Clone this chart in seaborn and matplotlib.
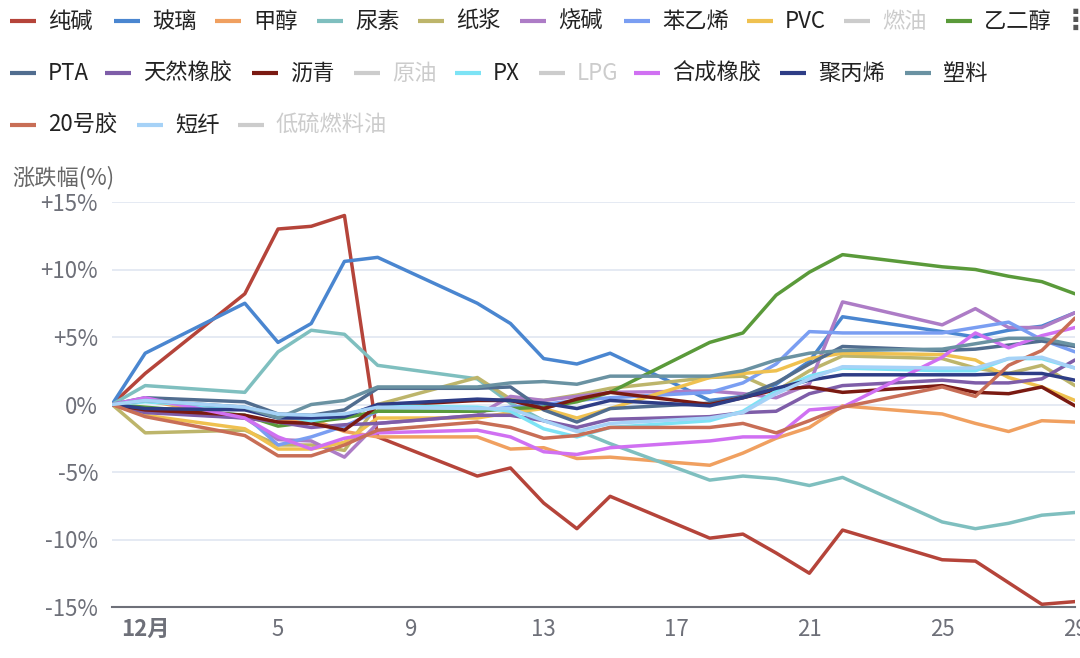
import pandas as pd
import matplotlib.pyplot as plt
import seaborn as sns
from matplotlib.lines import Line2D

sns.set_theme(style="white")
plt.rcParams['font.family'] = ['Noto Sans CJK SC', 'DejaVu Sans']

# 交易日（12月，0 = 11月30日）
days = [0, 1, 4, 5, 6, 7, 8, 11, 12, 13, 14, 15, 18, 19, 20, 21, 22, 25, 26, 27, 28, 29]

soda_ash = [0, 2.3, 8.2, 13.0, 13.2, 14.0, -2.4, -5.3, -4.7, -7.3, -9.2, -6.8, -9.9, -9.6, -11.0, -12.5, -9.3, -11.5, -11.6, -13.2, -14.8, -14.6]
glass = [0, 3.8, 7.5, 4.6, 6.0, 10.6, 10.9, 7.5, 6.0, 3.4, 3.0, 3.8, 0.3, 0.6, 1.5, 3.2, 6.5, 5.4, 5.0, 5.5, 5.8, 6.8]
methanol = [0, 0.3, -1.0, -1.3, -1.1, -2.0, -2.4, -2.4, -3.3, -3.2, -4.0, -3.9, -4.5, -3.6, -2.5, -1.7, -0.1, -0.7, -1.4, -2.0, -1.2, -1.3]
urea = [0, 1.4, 0.9, 3.9, 5.5, 5.2, 2.9, 1.9, 0.1, -1.2, -1.9, -2.9, -5.6, -5.3, -5.5, -6.0, -5.4, -8.7, -9.2, -8.8, -8.2, -8.0]
pulp = [0, -2.1, -1.9, -3.0, -3.0, -3.4, 0.0, 2.0, 0.4, 0.3, 0.7, 1.2, 2.0, 2.1, 1.0, 2.5, 3.6, 3.4, 2.7, 2.3, 2.9, 1.4]
caustic = [0, -0.5, -1.0, -2.6, -2.7, -3.9, -1.4, -0.8, 0.6, 0.3, 0.6, 0.9, 1.0, 0.8, 0.5, 1.5, 7.6, 5.9, 7.1, 5.7, 5.7, 6.8]
styrene = [0, -0.3, -0.8, -3.0, -2.4, -1.6, -0.5, -0.5, -0.2, 0.0, 0.3, 0.5, 0.9, 1.6, 3.0, 5.4, 5.3, 5.3, 5.7, 6.1, 4.8, 3.9]
pvc = [0, -0.8, -1.8, -3.3, -3.3, -2.8, -1.0, -1.0, -0.6, -0.3, -1.0, -0.3, 2.0, 2.3, 2.5, 3.4, 3.8, 3.7, 3.3, 2.0, 1.3, 0.3]
meg = [0, -0.2, -0.8, -1.6, -1.3, -1.0, -0.5, -0.5, -0.3, -0.2, 0.2, 0.9, 4.6, 5.3, 8.1, 9.8, 11.1, 10.2, 10.0, 9.5, 9.1, 8.2]
pta = [0, 0.5, 0.2, -0.7, -0.8, -0.4, 1.2, 1.2, 1.3, -0.4, -1.3, -0.3, 0.1, 0.6, 1.6, 3.0, 4.3, 4.0, 4.1, 4.4, 4.7, 4.3]
rubber = [0, -0.6, -1.0, -1.3, -1.7, -1.5, -1.4, -0.8, -0.8, -1.2, -1.7, -1.1, -0.9, -0.6, -0.5, 0.8, 1.4, 1.8, 1.6, 1.6, 1.9, 3.3]
bitumen = [0, -0.4, -0.8, -1.3, -1.4, -1.9, -0.1, 0.3, 0.3, -0.3, 0.4, 0.9, 0.0, 0.5, 1.1, 1.3, 0.9, 1.4, 0.9, 0.8, 1.3, -0.1]
px = [0, 0.2, -0.3, -0.8, -1.2, -0.8, -0.1, -0.2, -0.5, -1.8, -2.4, -1.7, -1.2, -0.5, 1.0, 2.1, 2.7, 2.5, 2.5, 3.4, 3.4, 2.7]
br = [0, 0.5, -1.0, -2.4, -3.3, -2.5, -2.1, -1.9, -2.4, -3.5, -3.7, -3.2, -2.7, -2.4, -2.4, -0.4, -0.2, 3.5, 5.3, 4.2, 5.1, 5.7]
pp = [0, -0.3, -0.4, -1.0, -1.0, -0.9, 0.0, 0.4, 0.3, 0.1, -0.3, 0.3, -0.1, 0.5, 1.2, 1.8, 2.2, 2.2, 2.2, 2.3, 2.3, 1.8]
plastic = [0, 0.3, -0.2, -1.0, 0.0, 0.3, 1.3, 1.3, 1.6, 1.7, 1.5, 2.1, 2.1, 2.5, 3.3, 3.8, 4.0, 4.1, 4.5, 4.9, 4.9, 4.4]
nr20 = [0, -0.9, -2.3, -3.8, -3.8, -3.0, -1.9, -1.3, -1.7, -2.5, -2.3, -1.7, -1.7, -1.4, -2.1, -1.2, -0.2, 1.3, 0.6, 2.9, 4.0, 6.4]
psf = [0, 0.3, -0.2, -0.7, -0.8, -0.7, -0.2, -0.3, -0.3, -1.2, -2.0, -1.4, -1.0, -0.6, 0.8, 1.9, 2.8, 2.7, 2.7, 3.4, 3.5, 2.7]

series = {
    '纯碱': soda_ash, '玻璃': glass, '甲醇': methanol, '尿素': urea, '纸浆': pulp,
    '烧碱': caustic, '苯乙烯': styrene, 'PVC': pvc, '乙二醇': meg, 'PTA': pta,
    '天然橡胶': rubber, '沥青': bitumen, 'PX': px, '合成橡胶': br, '聚丙烯': pp,
    '塑料': plastic, '20号胶': nr20, '短纤': psf,
}
colors = {
    '纯碱': '#b5443a', '玻璃': '#4a86d0', '甲醇': '#f0a060', '尿素': '#7fbfbf',
    '纸浆': '#bdb56b', '烧碱': '#ad7cc6', '苯乙烯': '#7a9ef2', 'PVC': '#efc150',
    '燃油': '#cccccc', '乙二醇': '#5a9a3a', 'PTA': '#516d8f', '天然橡胶': '#7e5da8',
    '沥青': '#7a1a12', '原油': '#cccccc', 'PX': '#7de3f5', 'LPG': '#cccccc',
    '合成橡胶': '#d070f2', '聚丙烯': '#2e3d86', '塑料': '#6a92a2', '20号胶': '#c86e56',
    '短纤': '#a6d2f7', '低硫燃料油': '#cccccc',
}
hidden = ['燃油', '原油', 'LPG', '低硫燃料油']

df = pd.concat([pd.DataFrame({'day': days, 'pct': v, 'name': k}) for k, v in series.items()])

fig = plt.figure(figsize=(10.8, 6.58), dpi=100)
ax = fig.add_axes([112 / 1080, 1 - 607 / 658, 963 / 1080, 405 / 658])

sns.lineplot(data=df, x='day', y='pct', hue='name', hue_order=list(series.keys()),
             palette={k: colors[k] for k in series}, estimator=None, sort=False,
             linewidth=2.5, legend=False, ax=ax)

ax.set_xlim(0, 29)
ax.set_ylim(-15, 15)
ax.set_yticks([15, 10, 5, 0, -5, -10, -15])
ax.set_yticklabels(['+15%', '+10%', '+5%', '0%', '-5%', '-10%', '-15%'])
ax.set_xticks([1, 5, 9, 13, 17, 21, 25, 29])
ax.set_xticklabels(['12月', '5', '9', '13', '17', '21', '25', '29'])
ax.get_xticklabels()[0].set_fontweight('bold')
ax.get_xticklabels()[0].set_color('#444444')
ax.tick_params(axis='y', length=0, labelsize=16, labelcolor='#6e7079', pad=10)
ax.tick_params(axis='x', length=5, width=1.2, color='#6e7079', labelsize=16,
               labelcolor='#6e7079', pad=3, direction='out')
ax.set_xlabel('')
ax.set_ylabel('')
ax.grid(axis='y', color='#e0e6f1', linewidth=1.2)
ax.grid(axis='x', visible=False)
for side in ['top', 'right', 'left']:
    ax.spines[side].set_visible(False)
ax.spines['bottom'].set_color('#6e7079')
ax.spines['bottom'].set_linewidth(1.5)
ax.spines['bottom'].set_zorder(5)

fig.text(12 / 1080, 1 - 178 / 658, '涨跌幅(%)', fontsize=16, color='#666666', va='center', ha='left')

# 图例（手工排布，模拟 echarts 的横向滚动图例）
legend_rows = [
    ['纯碱', '玻璃', '甲醇', '尿素', '纸浆', '烧碱', '苯乙烯', 'PVC', '燃油', '乙二醇'],
    ['PTA', '天然橡胶', '沥青', '原油', 'PX', 'LPG', '合成橡胶', '聚丙烯', '塑料'],
    ['20号胶', '短纤', '低硫燃料油'],
]
legend_x = [
    [10, 114, 215, 317, 418, 520, 624, 747, 844, 946],
    [10, 105, 252, 354, 455, 539, 634, 780, 905],
    [10, 137, 238],
]
row_y = [21, 73, 125]
for names, xs, y in zip(legend_rows, legend_x, row_y):
    yf = 1 - y / 658
    for name, x in zip(names, xs):
        fig.add_artist(Line2D([x / 1080, (x + 26) / 1080], [yf, yf], color=colors[name],
                              linewidth=3, solid_capstyle='butt'))
        fig.text((x + 38) / 1080, yf, name, fontsize=16, va='center', ha='left',
                 color='#cccccc' if name in hidden else '#222222')
fig.text(1062 / 1080, 1 - 21 / 658, '⋮', fontsize=20, fontweight='bold', color='#555555',
         va='center', ha='left', family=['DejaVu Sans'])

fig.savefig('out.png', dpi=100)
